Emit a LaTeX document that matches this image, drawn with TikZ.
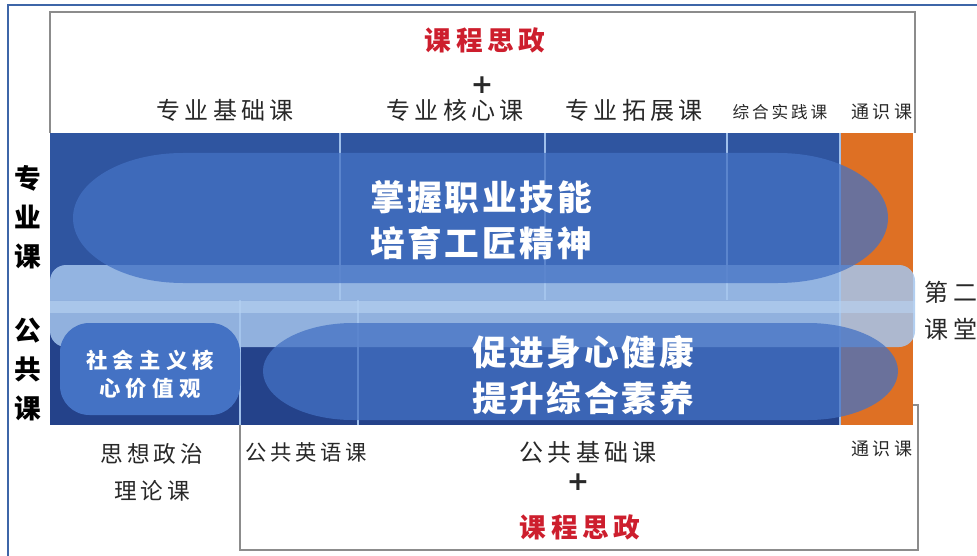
\documentclass[tikz,border=0pt]{standalone}
\usepackage{fontspec}
\newfontfamily\cjk[LetterSpace=17]{Noto Sans CJK SC}
\newfontfamily\cjkwide[LetterSpace=25]{Noto Sans CJK SC}
\newfontfamily\cjktight[LetterSpace=8]{Noto Sans CJK SC}
\newfontfamily\plusfont{DejaVu Sans}
\definecolor{frameblue}{RGB}{62,102,168}
\definecolor{deepblue}{RGB}{47,85,160}
\definecolor{darkblue}{RGB}{36,66,138}
\definecolor{midblue}{RGB}{68,114,196}
\definecolor{paleblue}{RGB}{165,197,237}
\definecolor{stripeblue}{RGB}{185,212,242}
\definecolor{sepblue}{RGB}{160,192,235}
\definecolor{burnt}{RGB}{222,112,36}
\definecolor{boxgray}{RGB}{140,140,140}
\definecolor{textgray}{RGB}{40,40,40}
\definecolor{titlered}{RGB}{205,30,45}
\tikzset{
  every node/.style={inner sep=0pt},
  boxline/.style={boxgray,line width=1.2pt},
  sepline/.style={sepblue,line width=1pt},
  pill/.style={fill=midblue,fill opacity=.75},
  redtitle/.style={text=titlered,font=\cjk\bfseries\fontsize{20}{22}\selectfont},
  plus/.style={text=textgray,font=\plusfont\bfseries\fontsize{20}{20}\selectfont},
  head/.style={text=textgray,font=\cjk\fontsize{18}{20}\selectfont},
  smallhead/.style={text=textgray,font=\cjk\fontsize{12.5}{14}\selectfont},
  sidelabel/.style={text=black,align=center,font=\cjktight\bfseries\fontsize{20}{29.25}\selectfont},
  bigwhite/.style={text=white,align=left,font=\cjktight\bfseries\fontsize{26}{34.5}\selectfont},
  smallwhite/.style={text=white,align=center,font=\cjkwide\bfseries\fontsize{16}{21}\selectfont},
  foot/.style={text=textgray,align=center,font=\cjk\fontsize{17}{27.75}\selectfont}
}
\begin{document}
\begin{tikzpicture}[x=0.75pt,y=-0.75pt]
\useasboundingbox (0,0) rectangle (977,556);
% outer frame
\draw[frameblue,line width=1.6pt] (8,556) -- (8,5) -- (977,5);

% band of courses
\fill[deepblue] (50,133) rectangle (840,300);
\fill[darkblue] (50,300) rectangle (840,425);
\fill[burnt] (840,133) rectangle (913,425);
\draw[sepline] (340,133) -- (340,300);
\draw[sepline] (545,133) -- (545,300);
\draw[sepline] (727,133) -- (727,300);
\draw[sepline] (240,300) -- (240,428);
\draw[sepline] (358,300) -- (358,425);
\draw[sepline] (840,133) -- (840,425);
\fill[paleblue,fill opacity=.85,rounded corners=12pt] (50,265) rectangle (915,347);
\fill[stripeblue,fill opacity=.6] (50,301) rectangle (915,313);
\fill[pill] (183,153) -- (778,153) .. controls (839,153) and (888,182) .. (888,218)
  .. controls (888,254) and (839,283) .. (778,283) -- (183,283)
  .. controls (122,283) and (73,254) .. (73,218)
  .. controls (73,182) and (122,153) .. (183,153) -- cycle;
\fill[pill] (353,323) -- (808,323) .. controls (858,323) and (898,345) .. (898,371)
  .. controls (898,398) and (858,420) .. (808,420) -- (353,420)
  .. controls (303,420) and (263,398) .. (263,371)
  .. controls (263,345) and (303,323) .. (353,323) -- cycle;
\fill[midblue,rounded corners=22pt] (60,323) rectangle (240,415);

% frames of the text boxes
\draw[boxline] (50,133) -- (50,12) -- (915,12) -- (915,133);
\draw[boxline] (240,425) -- (240,550) -- (918,550) -- (918,405) -- (913,405);

% top labels
\node[redtitle] (title1) at (485,40) {课程思政};
\node[plus] (plus1) at (482,85) {+};
\node[head] (hd1) at (225,110) {专业基础课};
\node[head] (hd2) at (455,110) {专业核心课};
\node[head] (hd3) at (634,110) {专业拓展课};
\node[smallhead] (hd4) at (780,112) {综合实践课};
\node[smallhead,font=\cjk\fontsize{13.5}{14}\selectfont] (hd5) at (882,112) {通识课};

% side labels
\node[sidelabel] (side1) at (28,217) {专\\业\\课};
\node[sidelabel] (side2) at (28,370) {公\\共\\课};
\node[head,align=center,font=\cjk\fontsize{18}{27.75}\selectfont] (second) at (951,311) {第二\\课堂};

% texts in the band
\node[bigwhite] (skill) at (481,220) {掌握职业技能\\培育工匠精神};
\node[bigwhite] (health) at (583,375) {促进身心健康\\提升综合素养};
\node[smallwhite] (core) at (150,374) {社会主义核\\心价值观};

% bottom labels
\node[foot] (ft1) at (152,472) {思想政治\\理论课};
\node[foot,font=\cjk\fontsize{16}{18}\selectfont] (ft2) at (306,452) {公共英语课};
\node[head] (ft3) at (588,452) {公共基础课};
\node[plus] (plus2) at (578,482) {+};
\node[redtitle] (title2) at (580,527) {课程思政};
\node[smallhead,font=\cjk\fontsize{13.5}{14}\selectfont] (ft4) at (882,449) {通识课};
\end{tikzpicture}
\end{document}
